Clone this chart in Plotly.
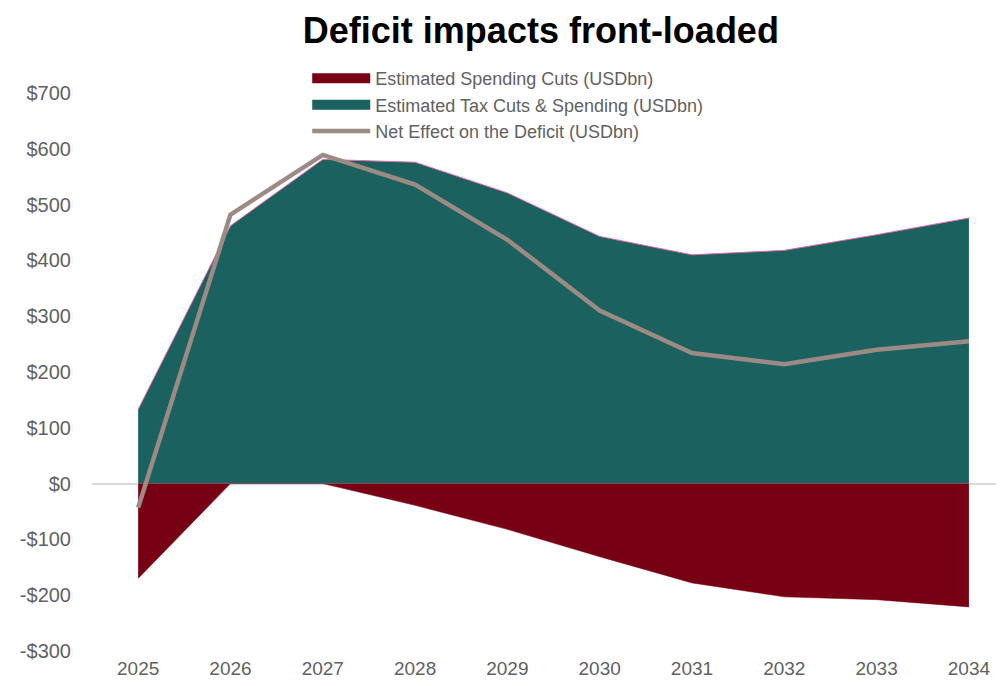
import plotly.graph_objects as go

years = [2025, 2026, 2027, 2028, 2029, 2030, 2031, 2032, 2033, 2034]
spending_cuts = [-170, 0, 0, -39, -82, -131, -178, -203, -208, -221]
tax_cuts_spending = [133, 462, 581, 576, 521, 443, 410, 418, 446, 476]
net_effect = [-43, 482, 589, 536, 437, 310, 234, 214, 240, 255]
y_ticks = [-300, -200, -100, 0, 100, 200, 300, 400, 500, 600, 700]
y_labels = [f"-${-v}" if v < 0 else f"${v}" for v in y_ticks]

names = [
    "Estimated Spending Cuts (USDbn)",
    "Estimated Tax Cuts & Spending (USDbn)",
    "Net Effect on the Deficit (USDbn)",
]

TEAL = "#1B615F"
RED = "#780014"
LINE = "#9C8B83"
PINK = "#E46AA6"
GREY_TXT = "#616161"
FONT = "Liberation Sans"

fig = go.Figure()

# data areas (legend handled by legend-only entries below)
fig.add_trace(go.Scatter(
    x=years, y=tax_cuts_spending, mode="lines", fill="tozeroy",
    fillcolor=TEAL, line=dict(color=PINK, width=1),
    name=names[1], showlegend=False,
))
fig.add_trace(go.Scatter(
    x=years, y=spending_cuts, mode="lines", fill="tozeroy",
    fillcolor=RED, line=dict(color=RED, width=0.5),
    name=names[0], showlegend=False,
))
fig.add_trace(go.Scatter(
    x=years, y=net_effect, mode="lines",
    line=dict(color=LINE, width=4.5),
    name=names[2], legendrank=3,
))

# legend swatches for the areas (thick blocks like the original)
fig.add_trace(go.Scatter(
    x=[None], y=[None], mode="lines", line=dict(color=RED, width=12),
    name=names[0], legendrank=1, hoverinfo="skip",
))
fig.add_trace(go.Scatter(
    x=[None], y=[None], mode="lines", line=dict(color=TEAL, width=12),
    name=names[1], legendrank=2, hoverinfo="skip",
))

fig.update_layout(
    width=996, height=678,
    margin=dict(l=84, r=0, t=85, b=35),
    paper_bgcolor="white", plot_bgcolor="white",
    font=dict(family=FONT, color=GREY_TXT, size=19),
    title=dict(
        text="<b>Deficit impacts front-loaded</b>",
        font=dict(family=FONT, size=36, color="#000000"),
        x=0.535, xanchor="center", y=0.9676, yanchor="middle",
    ),
    showlegend=True,
    legend=dict(
        x=0.236, xanchor="left", y=1.059, yanchor="top",
        xref="paper", yref="paper",
        bgcolor="rgba(0,0,0,0)",
        font=dict(family=FONT, size=18, color=GREY_TXT),
        itemwidth=58, tracegroupgap=0,
        itemclick=False,
    ),
    xaxis=dict(
        range=[2024.5, 2034.38],
        tickmode="array", tickvals=years, ticktext=[str(y) for y in years],
        showgrid=False, showline=False, zeroline=False,
        ticks="", tickfont=dict(family=FONT, size=19, color=GREY_TXT),
        ticklabelstandoff=4,
    ),
    yaxis=dict(
        range=[-300, 700],
        tickmode="array", tickvals=y_ticks, ticktext=y_labels,
        showgrid=False, showline=False,
        zeroline=True, zerolinecolor="#D9D9D9", zerolinewidth=1.5,
        ticks="", tickfont=dict(family=FONT, size=20, color=GREY_TXT),
        ticklabelstandoff=20,
    ),
)

fig.write_html("out.html")
